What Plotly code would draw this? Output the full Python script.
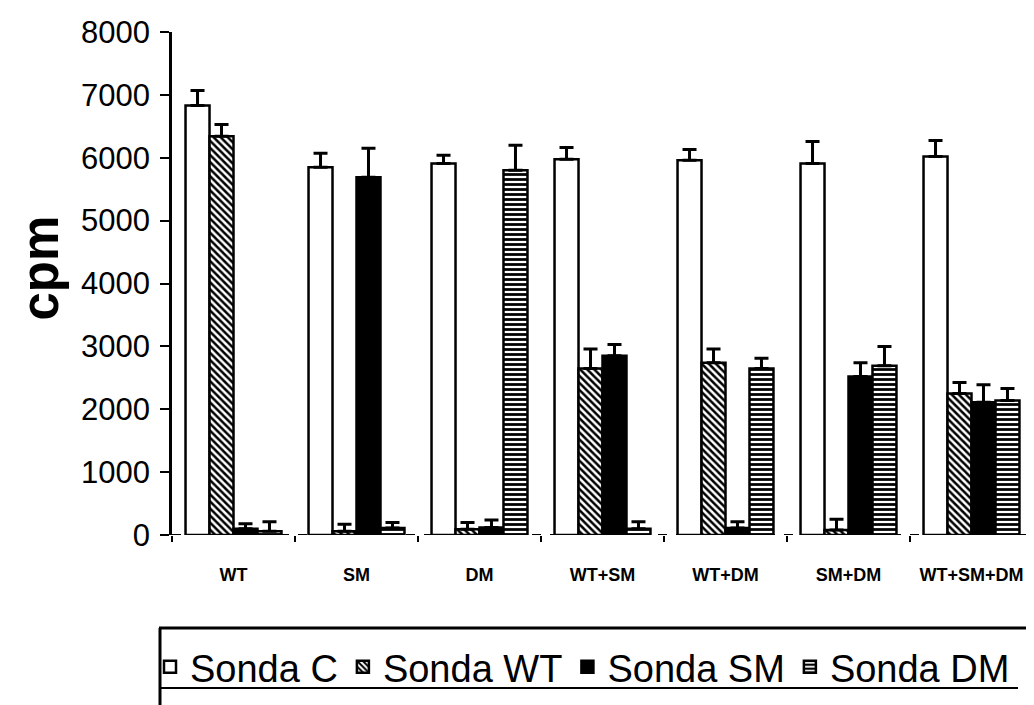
import plotly.graph_objects as go

categories = ["WT", "SM", "DM", "WT+SM", "WT+DM", "SM+DM", "WT+SM+DM"]
series_names = ["Sonda C", "Sonda WT", "Sonda SM", "Sonda DM"]

sonda_c = [6830, 5850, 5910, 5975, 5960, 5910, 6020]
sonda_c_err = [240, 220, 130, 190, 170, 350, 255]
sonda_wt = [6340, 60, 90, 2650, 2740, 80, 2250]
sonda_wt_err = [190, 110, 110, 310, 220, 170, 175]
sonda_sm = [100, 5690, 120, 2850, 110, 2520, 2110]
sonda_sm_err = [80, 460, 120, 180, 100, 220, 280]
sonda_dm = [60, 110, 5800, 100, 2650, 2690, 2140]
sonda_dm_err = [150, 90, 400, 110, 160, 310, 190]

y_ticks = [0, 1000, 2000, 3000, 4000, 5000, 6000, 7000, 8000]

# page has an 8px body margin; figure is sized so it fits the 1034x705 window
OFF = 8
W, H = 1034 - OFF, 705 - OFF
L = 172 - OFF
T = 32 - OFF
B = H - (535 - OFF)
R = 1
PW, PH = W - L - R, H - T - B

def px_x(p):
    return (p - OFF - L) / PW

def px_y(p):
    return (H - B - (p - OFF)) / PH

patterns = [
    dict(shape="", fillmode="overlay"),
    dict(shape="\\", fgcolor="black", bgcolor="white", size=5, solidity=0.5, fillmode="replace"),
    dict(shape="", fillmode="overlay"),
    dict(shape="-", fgcolor="black", bgcolor="white", size=5, solidity=0.55, fillmode="replace"),
]
colors = ["white", "white", "black", "white"]
values = [sonda_c, sonda_wt, sonda_sm, sonda_dm]
errors = [sonda_c_err, sonda_wt_err, sonda_sm_err, sonda_dm_err]

fig = go.Figure()
for name, vals, errs, col, pat in zip(series_names, values, errors, colors, patterns):
    fig.add_trace(go.Bar(
        name=name, x=categories, y=vals,
        marker=dict(color=col, line=dict(color="black", width=2.5), pattern=pat),
        error_y=dict(type="data", array=errs, arrayminus=[0] * len(errs), symmetric=False,
                     color="black", thickness=3, width=7),
    ))

font_family = "Arial, 'Liberation Sans', sans-serif"

fig.update_layout(
    width=W, height=H,
    margin=dict(l=L, r=R, t=T, b=B, autoexpand=False),
    paper_bgcolor="white", plot_bgcolor="white",
    barmode="group", bargap=0.22, bargroupgap=0,
    font=dict(family=font_family, color="black"),
    showlegend=True,
    legend=dict(orientation="h", xref="container", yref="container",
                x=(150 - OFF) / W, xanchor="left", y=(H - (667 - OFF)) / H, yanchor="middle",
                font=dict(size=38, family=font_family, color="black"),
                bgcolor="rgba(0,0,0,0)", borderwidth=0, itemwidth=30, tracegroupgap=0),
    xaxis=dict(range=[-0.5, 6.5], showline=False, showgrid=False, zeroline=False,
               ticks="outside", tickson="boundaries", ticklen=6, tickwidth=2, tickcolor="black",
               tickfont=dict(size=18, family=font_family, color="black", weight="bold"),
               ticklabelstandoff=27),
    yaxis=dict(range=[0, 8000], tickvals=y_ticks, showline=True, linecolor="black", linewidth=2.5,
               showgrid=False, zeroline=False, ticks="outside", ticklen=9, tickwidth=2,
               tickcolor="black", tickfont=dict(size=31, family=font_family, color="black"),
               ticklabelstandoff=4),
    annotations=[
        dict(text="cpm", textangle=-90, xref="paper", yref="paper", x=px_x(OFF + 1), y=px_y(268),
             xanchor="left", yanchor="middle", showarrow=False,
             font=dict(size=51, family=font_family, color="black", weight="bold")),
    ],
    shapes=[
        dict(type="line", xref="paper", yref="y", x0=0, x1=1, y0=0, y1=0,
             line=dict(color="black", width=2, dash="dash"), layer="below"),
        dict(type="line", xref="paper", yref="paper", x0=px_x(159), x1=px_x(1034), y0=px_y(628), y1=px_y(628),
             line=dict(color="black", width=3)),
        dict(type="line", xref="paper", yref="paper", x0=px_x(160), x1=px_x(160), y0=px_y(628), y1=px_y(705),
             line=dict(color="black", width=3)),
        dict(type="line", xref="paper", yref="paper", x0=px_x(160), x1=px_x(1018), y0=px_y(688), y1=px_y(688),
             line=dict(color="black", width=2)),
    ],
)

fig.write_html("out.html")
